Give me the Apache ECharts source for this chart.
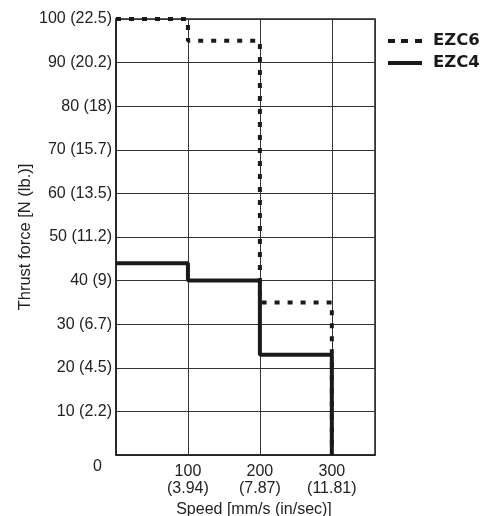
<!DOCTYPE html>
<html><head><meta charset="utf-8">
<script src="https://cdn.jsdelivr.net/npm/echarts@6/dist/echarts.min.js"></script>
<style>html,body{margin:0;padding:0;background:#fff;overflow:hidden}#c{width:496px;height:516px}</style>
</head><body><div id="c"></div>
<script>
const speeds = [0, 100, 200, 300];
const ezc6 = [100, 95, 35, 0];
const ezc4 = [44, 40, 23, 0];
const xInch = {100: '3.94', 200: '7.87', 300: '11.81'};
const yLb = {0: '', 10: '2.2', 20: '4.5', 30: '6.7', 40: '9', 50: '11.2', 60: '13.5', 70: '15.7', 80: '18', 90: '20.2', 100: '22.5'};
const FONT = '"Liberation Sans", Arial, sans-serif';
const chart = echarts.init(document.getElementById('c'));
chart.setOption({
  animation: false,
  backgroundColor: '#fff',
  grid: {left: 116, right: 121, top: 19, bottom: 61, show: true, borderColor: '#222', borderWidth: 1.5,
         containLabel: false, outerBoundsMode: 'none'},
  legend: {
    orient: 'vertical', left: 383, top: 27, itemWidth: 34, itemHeight: 4, itemGap: 4,
    textStyle: {fontFamily: '"DejaVu Sans", sans-serif', fontWeight: 'bold', fontSize: 16.5, color: '#1a1a1a', lineHeight: 18, padding: [0,0,0,6]},
    data: [
      {name: 'EZC6', icon: 'path://M0,0h7v4h-7z M13,0h7v4h-7z M27,0h7v4h-7z'},
      {name: 'EZC4', icon: 'path://M0,0h34v4h-34z'}
    ]
  },
  xAxis: {
    type: 'value', min: 0, max: 360, interval: 100,
    axisLine: {show: true, lineStyle: {color: '#222', width: 1.5}},
    axisTick: {show: false},
    splitLine: {show: true, lineStyle: {color: '#333', width: 1}},
    axisLabel: {
      margin: 8, fontFamily: FONT, fontSize: 16, color: '#222', lineHeight: 17,
      formatter: v => xInch[v] ? v + '\n(' + xInch[v] + ')' : ''
    },
    name: 'Speed [mm/s (in/sec)]', nameLocation: 'middle', nameGap: 40,
    nameTextStyle: {fontFamily: FONT, fontSize: 16, color: '#222', padding: [0, 0, 0, 17]}
  },
  yAxis: {
    type: 'value', min: 0, max: 100, interval: 10,
    axisLine: {show: true, lineStyle: {color: '#222', width: 1.5}},
    axisTick: {show: false},
    splitLine: {show: true, lineStyle: {color: '#333', width: 1}},
    axisLabel: {
      margin: 4, fontFamily: FONT, fontSize: 16, color: '#222',
      formatter: v => v === 0 ? '{z|0}' : v + ' (' + yLb[v] + ')',
      rich: {z: {fontFamily: FONT, fontSize: 16, color: '#222', padding: [24, 10, 0, 0]}}
    },
    name: 'Thrust force [N (lb.)]', nameLocation: 'middle', nameGap: 82, nameMoveOverlap: false,
    nameTextStyle: {fontFamily: FONT, fontSize: 16.5, color: '#222'}
  },
  series: [
    {name: 'EZC6', type: 'line', step: 'end', symbol: 'none', clip: false,
     data: speeds.map((s, i) => [s, ezc6[i]]),
     lineStyle: {color: '#1a1a1a', width: 4, type: [5, 8]}, itemStyle: {color: '#1a1a1a'}},
    {name: 'EZC4', type: 'line', step: 'end', symbol: 'none', clip: false,
     data: speeds.map((s, i) => [s, ezc4[i]]),
     lineStyle: {color: '#1a1a1a', width: 4}, itemStyle: {color: '#1a1a1a'}}
  ]
});
</script></body></html>
